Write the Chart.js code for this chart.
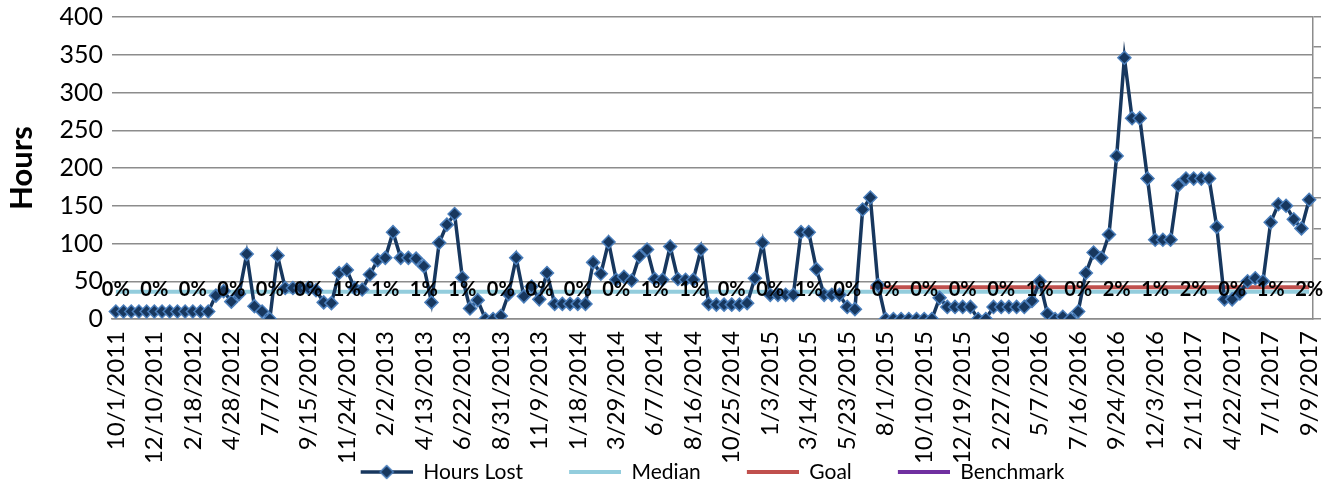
<!DOCTYPE html>
<html lang="en">
<head>
<meta charset="UTF-8" />
<title>Hours Lost</title>
<style>
  html, body { margin: 0; padding: 0; background: #fff; }
  #wrap { width: 1329px; height: 485px; }
</style>
</head>
<body>
<div id="wrap"><canvas id="chart" width="1329" height="485"></canvas></div>
<script src="https://cdn.jsdelivr.net/npm/chart.js"></script>
<script>
  // every 5th biweekly period gets a date label
  const tickLabels = [
    '10/1/2011', '12/10/2011', '2/18/2012', '4/28/2012', '7/7/2012', '9/15/2012',
    '11/24/2012', '2/2/2013', '4/13/2013', '6/22/2013', '8/31/2013', '11/9/2013',
    '1/18/2014', '3/29/2014', '6/7/2014', '8/16/2014', '10/25/2014', '1/3/2015',
    '3/14/2015', '5/23/2015', '8/1/2015', '10/10/2015', '12/19/2015', '2/27/2016',
    '5/7/2016', '7/16/2016', '9/24/2016', '12/3/2016', '2/11/2017', '4/22/2017',
    '7/1/2017', '9/9/2017'
  ];
  const labelEvery = 5;

  const hoursLost = [
    10, 10, 10, 10, 10, 10, 10, 10, 10, 10,
    10, 10, 10, 31, 37, 23, 33, 86, 17, 10,
    0, 84, 41, 41, 41, 41, 38, 22, 21, 61,
    65, 41, 39, 59, 78, 81, 115, 81, 81, 80,
    70, 22, 101, 125, 139, 55, 14, 25, 0, 0,
    4, 33, 81, 30, 43, 26, 61, 20, 20, 20,
    20, 20, 75, 60, 102, 52, 56, 51, 83, 92,
    53, 52, 96, 53, 52, 52, 92, 20, 19, 19,
    19, 19, 21, 54, 101, 32, 32, 32, 32, 115,
    115, 66, 32, 32, 32, 16, 13, 145, 161, 45,
    0, 0, 0, 0, 0, 0, 0, 28, 16, 16,
    16, 16, 0, 0, 16, 16, 16, 16, 16, 24,
    50, 7, 0, 3, 0, 10, 61, 88, 81, 112,
    216, 346, 266, 266, 186, 105, 105, 105, 177, 186,
    186, 186, 186, 122, 26, 26, 34, 50, 54, 50,
    128, 152, 150, 132, 120, 158
  ];

  const medianValue = 36;
  const goalValue = 42;
  const goalStart = 98;
  const benchmark = [];

  // percent labels shown at each labelled period
  const pctLabels = [
    0, 0, 0, 0, 0, 0, 1, 1, 1, 1, 0, 0, 0, 0, 1, 1,
    0, 0, 1, 0, 0, 0, 0, 0, 1, 0, 2, 1, 2, 0, 1, 2
  ];

  const categories = hoursLost.map((_, i) => i % labelEvery === 0 ? tickLabels[i / labelEvery] : '');
  const median = hoursLost.map(() => medianValue);
  const goal = hoursLost.map((_, i) => i >= goalStart ? goalValue : null);

  const navy = '#17375E';
  const markerEdge = '#4A7EBB';
  const gridGray = '#8c8c8c';
  const font = 'Lato, "Open Sans", sans-serif';

  // legend swatch: transparent lead-in, then line (and diamond for the main series)
  const swLead = 40, swLine = 52;
  function swatch(color, withMarker) {
    const c = document.createElement('canvas');
    c.width = swLead + swLine; c.height = 18;
    const g = c.getContext('2d');
    g.strokeStyle = color;
    g.lineWidth = withMarker ? 3.5 : 4;
    g.beginPath(); g.moveTo(swLead, 9); g.lineTo(swLead + swLine, 9); g.stroke();
    if (withMarker) {
      const cx = swLead + swLine / 2;
      g.beginPath();
      g.moveTo(cx, 2.5); g.lineTo(cx + 6.5, 9); g.lineTo(cx, 15.5); g.lineTo(cx - 6.5, 9); g.closePath();
      g.fillStyle = navy; g.fill();
      g.lineWidth = 1.5; g.strokeStyle = markerEdge; g.stroke();
    }
    return c;
  }

  const pctLabelPlugin = {
    id: 'pctLabels',
    afterDatasetsDraw(chart) {
      const {ctx, scales} = chart;
      ctx.save();
      ctx.font = 'bold 20px ' + font;
      ctx.fillStyle = '#000';
      ctx.textAlign = 'center';
      ctx.textBaseline = 'middle';
      pctLabels.forEach((p, k) => {
        const x = scales.x.getPixelForValue(k * labelEvery);
        const y = scales.y.getPixelForValue(medianValue) - 2;
        ctx.fillText(p + '%', x, y);
      });
      ctx.restore();
    }
  };

  // nudge the legend to where the original sits, let long date labels run past the axis box
  const legendPlace = {
    id: 'legendPlace',
    afterLayout(chart) {
      const lg = chart.legend;
      const h = lg.bottom - lg.top;
      lg.left += 28; lg.right += 28;
      lg.top = 472 - 6 - 10.5; lg.bottom = lg.top + h;
      chart.scales.x.bottom = chart.height;
    }
  };

  const ctx = document.getElementById('chart').getContext('2d');
  new Chart(ctx, {
    type: 'line',
    data: {
      labels: categories,
      datasets: [
        {
          label: 'Hours Lost',
          data: hoursLost,
          borderColor: navy,
          borderWidth: 3.5,
          pointStyle: 'rectRot',
          pointRadius: 6.5,
          pointBackgroundColor: navy,
          pointBorderColor: markerEdge,
          pointBorderWidth: 1.5,
          tension: 0
        },
        {
          label: 'Median',
          data: median,
          borderColor: '#93CDDD',
          borderWidth: 4,
          pointRadius: 0
        },
        {
          label: 'Goal',
          data: goal,
          borderColor: '#C0504D',
          borderWidth: 4,
          pointRadius: 0
        },
        {
          label: 'Benchmark',
          data: benchmark,
          borderColor: '#7030A0',
          borderWidth: 4,
          pointRadius: 0
        }
      ]
    },
    options: {
      responsive: false,
      animation: false,
      devicePixelRatio: 1,
      layout: { padding: { top: 17, bottom: 0, left: 0, right: 0 } },
      scales: {
        x: {
          offset: true,
          grid: { display: false },
          border: { display: true, color: gridGray, width: 1.5 },
          ticks: {
            autoSkip: false,
            maxRotation: 90,
            minRotation: 90,
            padding: 4,
            color: '#000',
            font: { family: font, size: 24 }
          },
          afterFit(s) { s.height = 129; s.paddingLeft = 0; s.paddingRight = 0; }
        },
        y: {
          min: 0,
          max: 400,
          ticks: {
            stepSize: 50,
            padding: 9,
            color: '#000',
            font: { family: font, size: 25 }
          },
          grid: { color: gridGray, lineWidth: 1.5, drawTicks: false },
          border: { display: false },
          title: {
            display: true,
            text: 'Hours',
            color: '#000',
            font: { family: font, size: 31, weight: 'bold' },
            padding: { top: 3, bottom: 0 }
          },
          afterFit(s) { s.width = 112; s.paddingTop = 0; s.paddingBottom = 0; }
        },
        y2: {
          position: 'right',
          min: 0,
          max: 10,
          ticks: { stepSize: 1, padding: 0, callback: () => '' },
          grid: { drawOnChartArea: false, drawTicks: true, tickLength: 8, color: gridGray, lineWidth: 1.5 },
          border: { display: true, color: gridGray, width: 1.5 },
          afterFit(s) { s.width = 16; s.paddingTop = 0; s.paddingBottom = 0; }
        }
      },
      plugins: {
        tooltip: { enabled: false },
        legend: {
          position: 'bottom',
          labels: {
            usePointStyle: true,
            pointStyleWidth: swLead + swLine,
            padding: 6,
            color: '#000',
            font: { family: font, size: 21 },
            generateLabels(chart) {
              return chart.data.datasets.map((ds, i) => ({
                text: ds.label,
                pointStyle: swatch(ds.borderColor, i === 0),
                fillStyle: ds.borderColor,
                strokeStyle: ds.borderColor,
                lineWidth: 0,
                fontColor: '#000',
                hidden: false,
                datasetIndex: i
              }));
            }
          }
        }
      }
    },
    plugins: [pctLabelPlugin, legendPlace]
  });
</script>
</body>
</html>
